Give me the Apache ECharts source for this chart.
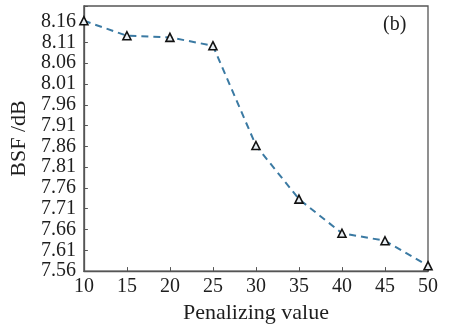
<!DOCTYPE html>
<html>
<head>
<meta charset="utf-8">
<script src="https://cdn.jsdelivr.net/npm/echarts@6/dist/echarts.min.js"></script>
<style>
  html, body {margin: 0; padding: 0; background: #fff;}
  #chart {width: 449px; height: 329px;}
</style>
</head>
<body>
<div id="chart"></div>
<script>
const penalizing = [10, 15, 20, 25, 30, 35, 40, 45, 50];
const bsf = [8.162, 8.126, 8.122, 8.102, 7.862, 7.733, 7.651, 7.633, 7.573];
const panelLabel = '(b)';

const font = '"Liberation Serif", "DejaVu Serif", serif';
const ink = '#1e1e1e';
const axisGrey = '#555';

const chart = echarts.init(document.getElementById('chart'), null, {renderer: 'canvas'});
chart.setOption({
  animation: false,
  grid: {left: 82, right: 21, top: 6, bottom: 51, show: true, borderColor: axisGrey, borderWidth: 1.3},
  xAxis: {
    type: 'value',
    min: 10,
    max: 50,
    interval: 5,
    name: 'Penalizing value',
    nameLocation: 'middle',
    nameGap: 22,
    nameTextStyle: {color: ink, fontFamily: font, fontSize: 22},
    axisLine: {lineStyle: {color: axisGrey, width: 1.3}},
    axisTick: {inside: true, length: 4, lineStyle: {color: axisGrey}},
    axisLabel: {color: ink, fontFamily: font, fontSize: 20, margin: 6},
    splitLine: {show: false},
  },
  yAxis: {
    type: 'value',
    min: 7.56,
    max: 8.1975,
    interval: 0.05,
    name: 'BSF /dB',
    nameLocation: 'middle',
    nameGap: 52,
    nameRotate: 90,
    nameTextStyle: {color: ink, fontFamily: font, fontSize: 22},
    axisLine: {lineStyle: {color: axisGrey, width: 1.3}},
    axisTick: {inside: true, length: 4, lineStyle: {color: axisGrey}},
    axisLabel: {
      color: ink, fontFamily: font, fontSize: 20, margin: 8,
      formatter: v => (v > 8.17 ? '' : v.toFixed(2)),
    },
    splitLine: {show: false},
  },
  graphic: [{
    type: 'text',
    left: 383,
    top: 15,
    style: {text: panelLabel, fill: ink, font: '20px ' + font},
  }],
  series: [{
    type: 'line',
    data: penalizing.map((x, i) => [x, bsf[i]]),
    symbol: 'triangle',
    symbolSize: 8,
    lineStyle: {color: '#3b7aa3', width: 2, type: [7, 5]},
    itemStyle: {color: '#e8eef3', borderColor: '#111', borderWidth: 1.6},
  }],
});
</script>
</body>
</html>
